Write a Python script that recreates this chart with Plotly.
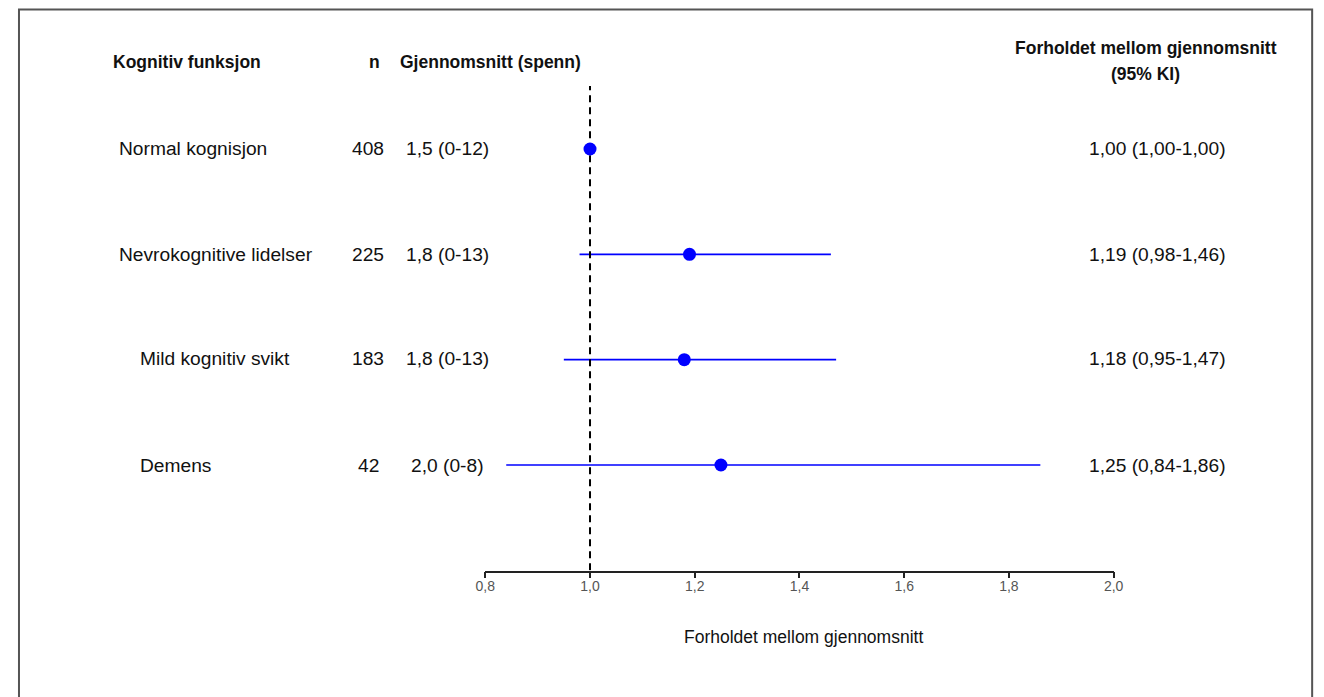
import plotly.graph_objects as go

W, H = 1324, 697
# observed mapping of figure pixels onto the photographed page
SX, OX, OY = 0.9843, 18.0, 8.0

labels = ["Normal kognisjon", "Nevrokognitive lidelser", "Mild kognitiv svikt", "Demens"]
indent = [False, False, True, True]
n_vals = ["408", "225", "183", "42"]
mean_span = ["1,5 (0-12)", "1,8 (0-13)", "1,8 (0-13)", "2,0 (0-8)"]
ratio = [1.00, 1.19, 1.18, 1.25]
ci_low = [1.00, 0.98, 0.95, 0.84]
ci_high = [1.00, 1.46, 1.47, 1.86]
ratio_text = ["1,00 (1,00-1,00)", "1,19 (0,98-1,46)", "1,18 (0,95-1,47)", "1,25 (0,84-1,86)"]
tick_vals = [0.8, 1.0, 1.2, 1.4, 1.6, 1.8, 2.0]
tick_text = ["0,8", "1,0", "1,2", "1,4", "1,6", "1,8", "2,0"]
ypos = [4, 3, 2, 1]

FONT = "Liberation Sans, Arial, sans-serif"
BLUE = "#0000ff"


def px_x(p):
    return ((p - OX) / SX) / W


def px_y(p):
    return 1 - (p - OY) / H


fig = go.Figure()

# CI lines
for i in range(len(labels)):
    if ci_high[i] > ci_low[i]:
        fig.add_trace(go.Scatter(
            x=[ci_low[i], ci_high[i]], y=[ypos[i], ypos[i]],
            mode="lines", line=dict(color=BLUE, width=1.6),
            showlegend=False, hoverinfo="skip"))

# reference dashed line
fig.add_trace(go.Scatter(
    x=[1.0, 1.0], y=[0, 4.6], mode="lines",
    line=dict(color="black", width=2, dash="7px,5px"),
    showlegend=False, hoverinfo="skip"))

fig.add_trace(go.Scatter(
    x=ratio, y=ypos, mode="markers",
    marker=dict(color=BLUE, size=13, line=dict(width=0)),
    showlegend=False))

ann = []


def add_text(x, y, text, anchor="left", size=19.2, bold=False, color="#111"):
    t = f"<b>{text}</b>" if bold else text
    ann.append(dict(x=px_x(x), y=px_y(y), xref="paper", yref="paper",
                    text=t, showarrow=False, xanchor=anchor, yanchor="middle",
                    font=dict(family=FONT, size=size, color=color)))


row_px = [149, 254, 359, 465]
for i in range(len(labels)):
    add_text(138 if indent[i] else 117, row_px[i], labels[i])
    add_text(368, row_px[i], n_vals[i], anchor="center")
    add_text(447, row_px[i], mean_span[i], anchor="center")
    add_text(1157, row_px[i], ratio_text[i], anchor="center")

add_text(111, 62, "Kognitiv funksjon", bold=True, size=17.5)
add_text(374, 62, "n", anchor="center", bold=True, size=17.5)
add_text(398, 62, "Gjennomsnitt (spenn)", bold=True, size=17.5)
add_text(1145, 48, "Forholdet mellom gjennomsnitt", anchor="center", bold=True, size=17.5)
add_text(1145, 74, "(95% KI)", anchor="center", bold=True, size=17.5)
add_text(803.5, 637, "Forholdet mellom gjennomsnitt", anchor="center", size=17.5)

# y range: rows 1..4 spaced 105.33 px, axis at 570.5 px
row_gap = (465 - 149) / 3
y_bottom = 1 - (570.5 - 465) / row_gap
y_top = 4 + (149 - 86) / row_gap

fig.update_layout(
    width=W, height=H,
    margin=dict(l=0, r=0, t=0, b=0),
    paper_bgcolor="white", plot_bgcolor="white",
    annotations=ann,
    xaxis=dict(domain=[px_x(485), px_x(1113)], range=[0.8, 2.0],
               tickvals=tick_vals, ticktext=tick_text,
               showgrid=False, zeroline=False,
               showline=True, linecolor="#222", linewidth=1.5,
               ticks="outside", ticklen=6, tickcolor="#222", tickwidth=1.5,
               tickfont=dict(family=FONT, size=14, color="#555"),
               ticklabelstandoff=-4,
               anchor="y"),
    yaxis=dict(domain=[px_y(570.5), px_y(86)], range=[y_bottom, y_top],
               showgrid=False, zeroline=False, showline=False,
               showticklabels=False, ticks=""),
    shapes=[dict(type="rect", xref="paper", yref="paper",
                 x0=1 / W, x1=1314 / W, y0=-0.05, y1=1 - 1.5 / H,
                 line=dict(color="#555", width=2), fillcolor="rgba(0,0,0,0)")],
)

fig.write_html("out.html")
